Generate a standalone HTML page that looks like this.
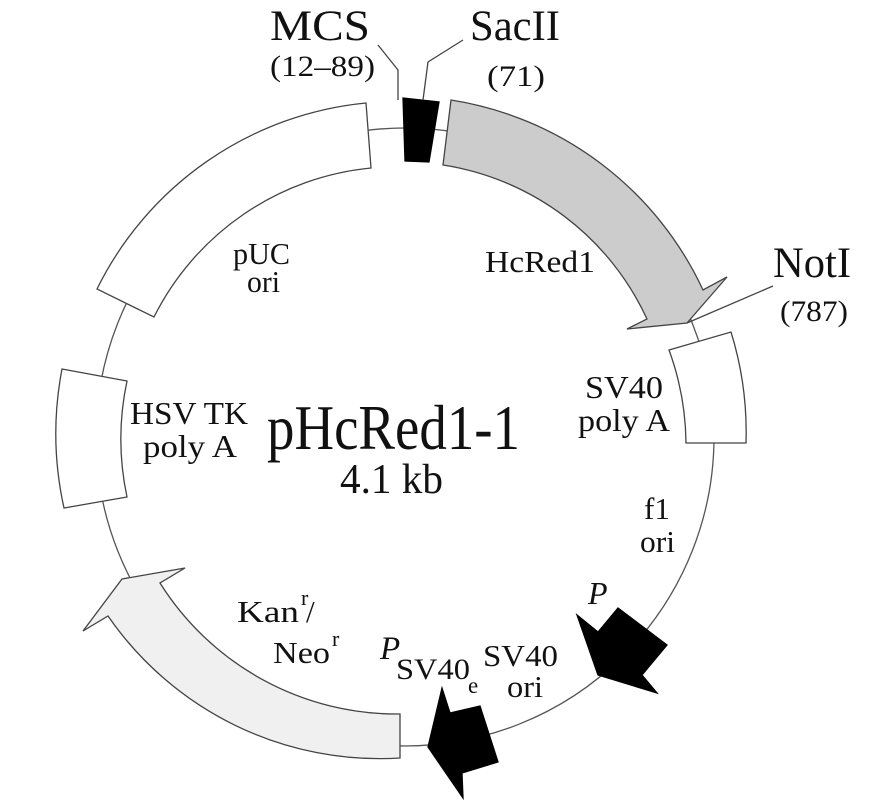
<!DOCTYPE html>
<html><head><meta charset="utf-8"><style>
html,body{margin:0;padding:0;background:#fff;}
svg{display:block;}
text{font-family:"Liberation Serif",serif;fill:#111;}
</style></head><body>
<svg width="886" height="811" viewBox="0 0 886 811" xmlns="http://www.w3.org/2000/svg">
<circle cx="405" cy="437" r="309" fill="none" stroke="#555" stroke-width="1.3"/>
<g stroke="#444" stroke-width="1.3" stroke-linejoin="miter">
<path d="M97,289 A336,336 0 0 1 366,103 L371,168 A272,272 0 0 0 154,317 Z" fill="#fff"/>
<polygon points="403,98 439,102 429,162 405,161" fill="#000" stroke="#000"/>
<path d="M451,100 A335,335 0 0 1 703,290 L727,277 L687,323 L627,329 L647,319 A270,270 0 0 0 443,165 Z" fill="#cccccc"/>
<path d="M669,350 L731,332 A338,338 0 0 1 746,443 L686,443 A278,278 0 0 0 669,350 Z" fill="#fff"/>
<path d="M62,369 L127,381 A278,278 0 0 0 127,497 L64,508 A343,343 0 0 1 62,369 Z" fill="#fff"/>
<path d="M400,758 A330,330 0 0 1 108,616 L83,631 L122,579 L185,568 L160,583 A280,280 0 0 0 400,714 Z" fill="#f0f0f0"/>
<polygon points="598,675 577,615 598,632 618,608 667,645 642,675 657,693" fill="#000" stroke="#000"/>
<polygon points="428,747 442,688 450,713 480,706 498,762 462,773 463,798" fill="#000" stroke="#000"/>
<polyline points="378,45 398,70 398,100" fill="none"/>
<polyline points="463,40 428,62 423,100" fill="none"/>
<line x1="687" y1="323" x2="773" y2="286"/>
</g>
<text x="270" y="40" font-size="43" textLength="100" lengthAdjust="spacingAndGlyphs">MCS</text>
<text x="270" y="76" font-size="30" textLength="105" lengthAdjust="spacingAndGlyphs">(12–89)</text>
<text x="470" y="40" font-size="43" textLength="90" lengthAdjust="spacingAndGlyphs">SacII</text>
<text x="487" y="86" font-size="30" textLength="58" lengthAdjust="spacingAndGlyphs">(71)</text>
<text x="773" y="277" font-size="43" textLength="78" lengthAdjust="spacingAndGlyphs">NotI</text>
<text x="780" y="321" font-size="30" textLength="68" lengthAdjust="spacingAndGlyphs">(787)</text>
<text x="233" y="264" font-size="31" textLength="57" lengthAdjust="spacingAndGlyphs">pUC</text>
<text x="247" y="292" font-size="31" textLength="33" lengthAdjust="spacingAndGlyphs">ori</text>
<text x="485" y="272" font-size="31" textLength="110" lengthAdjust="spacingAndGlyphs">HcRed1</text>
<text x="585" y="398" font-size="32" textLength="78" lengthAdjust="spacingAndGlyphs">SV40</text>
<text x="578" y="431" font-size="32" textLength="92" lengthAdjust="spacingAndGlyphs">poly A</text>
<text x="130" y="424" font-size="32" textLength="118" lengthAdjust="spacingAndGlyphs">HSV TK</text>
<text x="143" y="457" font-size="32" textLength="94" lengthAdjust="spacingAndGlyphs">poly A</text>
<text x="267" y="449" font-size="64" textLength="253" lengthAdjust="spacingAndGlyphs">pHcRed1-1</text>
<text x="340" y="493" font-size="42" textLength="103" lengthAdjust="spacingAndGlyphs">4.1 kb</text>
<text x="644" y="519" font-size="31" textLength="26" lengthAdjust="spacingAndGlyphs">f1</text>
<text x="640" y="552" font-size="31" textLength="35" lengthAdjust="spacingAndGlyphs">ori</text>
<text x="588" y="604" font-size="32" font-style="italic">P</text>
<text x="237" y="622" font-size="31" textLength="62" lengthAdjust="spacingAndGlyphs">Kan</text>
<text x="301" y="605" font-size="22">r</text>
<text x="306" y="622" font-size="31">/</text>
<text x="273" y="663" font-size="31" textLength="57" lengthAdjust="spacingAndGlyphs">Neo</text>
<text x="332" y="646" font-size="22">r</text>
<text x="380" y="659" font-size="33" font-style="italic">P</text>
<text x="396" y="679" font-size="30" textLength="74" lengthAdjust="spacingAndGlyphs">SV40</text>
<text x="468" y="693" font-size="23">e</text>
<text x="483" y="666" font-size="31" textLength="75" lengthAdjust="spacingAndGlyphs">SV40</text>
<text x="507" y="697" font-size="31" textLength="36" lengthAdjust="spacingAndGlyphs">ori</text>
</svg>
</body></html>
